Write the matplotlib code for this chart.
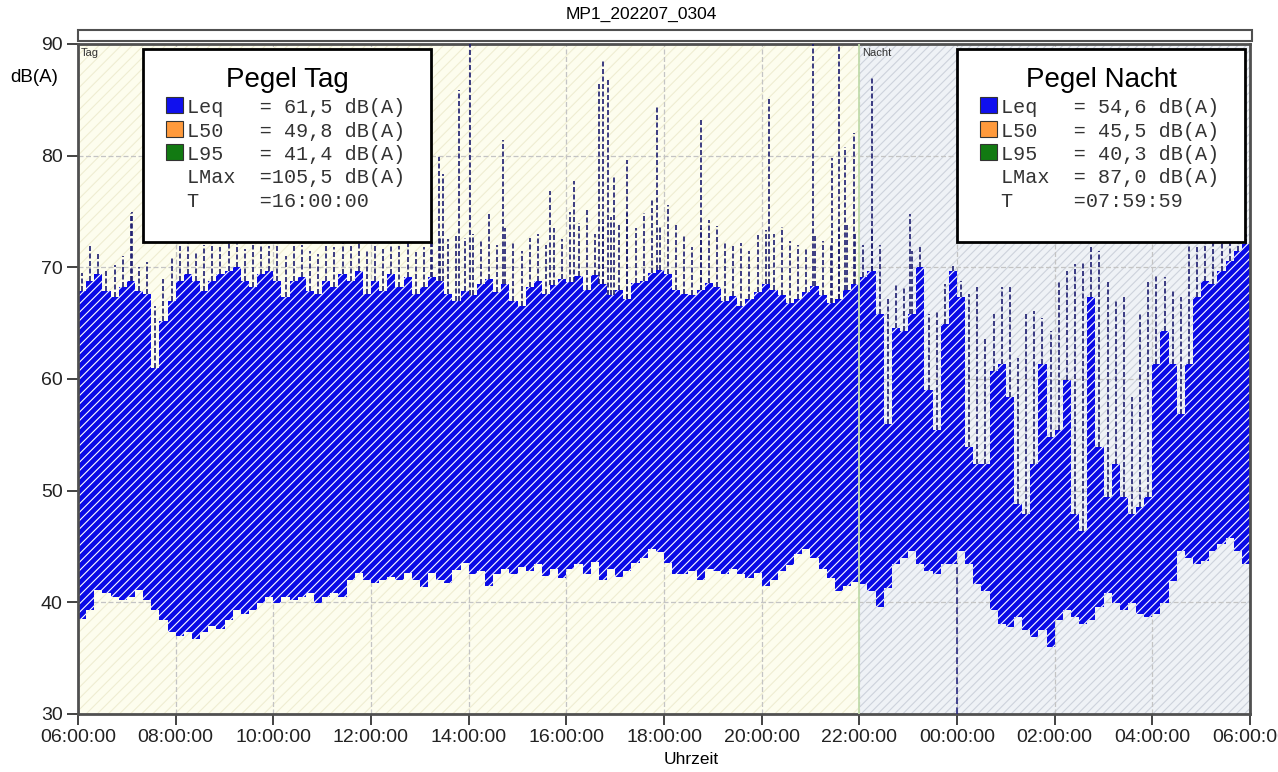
"""
Noise level plot MP1_202207_0304: day/night level history with summary boxes.
"""

import numpy as np
import matplotlib
matplotlib.use('Agg')
import matplotlib.pyplot as plt
from matplotlib.patches import Rectangle

# --------------------------------------------------------
# Data (10 minute bins from 06:00 to 06:00 next day, dB(A))
# --------------------------------------------------------

# lower edge of the level band, one row per hour (06 .. 05)
level_low = [
    38.5, 39.3, 41.1, 40.8, 40.5, 40.2,   # 06
    40.5, 41.1, 40.2, 39.3, 38.4, 37.3,   # 07
    37.0, 37.3, 36.7, 37.3, 37.9, 37.6,   # 08
    38.4, 39.3, 39.0, 39.3, 39.9, 40.5,   # 09
    39.9, 40.5, 40.2, 40.5, 40.8, 39.9,   # 10
    40.5, 40.8, 40.5, 42.0, 42.6, 42.0,   # 11
    41.7, 42.0, 42.3, 42.0, 42.6, 42.0,   # 12
    41.4, 42.6, 42.0, 41.7, 42.9, 43.5,   # 13
    42.5, 42.8, 41.5, 42.5, 43.0, 42.5,   # 14
    43.2, 42.8, 43.4, 42.4, 43.0, 42.2,   # 15
    43.0, 43.4, 42.5, 43.6, 42.0, 43.0,   # 16
    42.3, 42.8, 43.5, 44.0, 44.8, 44.5,   # 17
    43.5, 42.5, 42.5, 42.8, 42.0, 43.0,   # 18
    42.8, 42.5, 43.0, 42.5, 42.2, 42.6,   # 19
    41.5, 42.0, 42.8, 43.3, 44.3, 44.8,   # 20
    44.0, 43.0, 42.2, 41.0, 41.5, 41.8,   # 21
    41.6, 41.0, 39.6, 41.3, 43.4, 44.0,   # 22
    44.6, 43.4, 42.8, 42.5, 43.4, 43.4,   # 23
    44.6, 43.4, 41.6, 41.0, 39.3, 38.1,   # 00
    37.8, 38.7, 37.5, 36.9, 37.5, 36.0,   # 01
    38.4, 39.3, 38.7, 38.1, 38.4, 39.6,   # 02
    40.8, 39.9, 39.3, 39.9, 39.0, 38.7,   # 03
    39.0, 39.9, 41.9, 44.6, 44.0, 43.4,   # 04
    43.7, 44.6, 45.2, 45.8, 44.6, 43.4,   # 05
]

# upper edge of the dense band
level_high = [
    67.9, 68.8, 69.4, 67.9, 67.3, 68.2,   # 06
    68.8, 67.9, 67.6, 61.0, 65.2, 67.0,   # 07
    68.8, 69.4, 68.8, 67.9, 68.8, 69.4,   # 08
    69.7, 70.0, 68.8, 68.2, 69.4, 69.7,   # 09
    68.8, 67.3, 68.8, 69.1, 67.9, 67.6,   # 10
    68.8, 68.2, 69.4, 68.8, 69.7, 67.6,   # 11
    68.8, 67.9, 69.4, 68.2, 69.1, 67.6,   # 12
    68.2, 69.1, 68.8, 67.6, 67.0, 67.9,   # 13
    67.5, 68.5, 69.0, 67.8, 68.5, 67.0,   # 14
    66.5, 68.2, 68.8, 67.6, 68.4, 69.0,   # 15
    68.7, 69.2, 68.0, 69.3, 68.5, 67.5,   # 16
    68.0, 67.2, 68.6, 68.8, 69.5, 69.8,   # 17
    69.4, 68.0, 67.6, 67.5, 68.0, 68.6,   # 18
    68.2, 67.0, 67.4, 66.5, 67.2, 67.8,   # 19
    68.5, 68.0, 67.5, 66.8, 67.2, 67.8,   # 20
    68.3, 67.5, 66.8, 67.2, 68.0, 68.5,   # 21
    69.1, 69.7, 65.8, 56.0, 64.6, 64.3,   # 22
    65.8, 70.0, 59.0, 55.4, 64.9, 69.7,   # 23
    67.3, 53.9, 52.4, 52.4, 60.7, 61.3,   # 00
    58.4, 48.8, 47.9, 52.4, 61.3, 54.8,   # 01
    55.4, 59.9, 47.9, 46.4, 67.3, 53.9,   # 02
    49.4, 52.4, 49.4, 47.9, 48.5, 49.4,   # 03
    61.3, 64.3, 61.3, 56.9, 61.3, 67.3,   # 04
    68.8, 68.5, 69.7, 70.6, 71.5, 72.1,   # 05
]

# short peaks above the dense band
level_peak = [
    69.5, 72.1, 71.2, 69.8, 70.2, 71.0,   # 06
    74.9, 70.0, 70.5, 66.5, 69.0, 71.0,   # 07
    72.0, 72.5, 71.5, 72.0, 72.3, 71.8,   # 08
    72.2, 72.4, 71.6, 72.0, 72.5, 71.9,   # 09
    72.0, 71.0, 72.3, 72.0, 71.5, 71.2,   # 10
    72.1, 71.8, 72.4, 72.0, 72.5, 71.5,   # 11
    72.2, 71.6, 72.4, 71.9, 72.3, 71.4,   # 12
    71.8, 72.4, 72.8, 72.5, 73.0, 72.6,   # 13
    73.0, 72.5, 74.9, 72.0, 73.5, 72.4,   # 14
    71.5, 72.6, 73.0, 72.0, 73.5, 72.5,   # 15
    75.0, 74.0, 75.1, 73.0, 74.0, 74.5,   # 16
    74.0, 74.9, 73.5, 74.9, 76.0, 73.8,   # 17
    75.6, 74.0, 72.8, 71.8, 73.5, 74.2,   # 18
    73.7, 72.3, 71.9, 72.2, 71.5, 72.9,   # 19
    73.3, 73.0, 73.6, 72.4, 72.0, 71.6,   # 20
    73.0, 72.4, 72.2, 73.5, 74.0, 73.2,   # 21
    72.0, 73.3, 72.0, 67.3, 68.5, 68.2,   # 22
    71.5, 72.0, 65.8, 66.1, 68.5, 70.3,   # 23
    68.8, 67.6, 68.2, 63.7, 65.8, 68.2,   # 00
    68.2, 61.9, 65.8, 66.1, 65.5, 64.3,   # 01
    68.8, 69.7, 70.3, 70.6, 71.8, 71.5,   # 02
    68.8, 67.0, 67.3, 58.4, 65.8, 68.8,   # 03
    69.4, 69.1, 67.9, 67.3, 72.0, 72.0,   # 04
    73.0, 73.0, 73.0, 73.0, 73.0, 73.0,   # 05
]

# single loud events (clock time, max level)
event_times = ['07:06', '13:14', '13:24', '13:29', '13:48', '14:02', '14:42',
               '15:40', '16:09', '16:40', '16:45', '16:51', '16:59', '17:14',
               '17:52', '18:45', '20:09', '21:03', '21:27', '21:35', '21:43',
               '21:54', '22:16', '23:02']
event_levels = [75.0, 78.0, 79.9, 78.4, 85.9, 90.0, 81.4,
                76.8, 77.7, 86.6, 88.5, 86.9, 78.3, 79.6,
                84.5, 83.4, 85.1, 90.0, 79.8, 90.0, 80.8,
                82.0, 87.0, 74.8]

# measurement dropout at midnight
dropout_time = '00:00'
dropout_level = 43.5

hour_ticks = ['06:00:00', '08:00:00', '10:00:00', '12:00:00', '14:00:00',
              '16:00:00', '18:00:00', '20:00:00', '22:00:00', '00:00:00',
              '02:00:00', '04:00:00', '06:00:00']

day_rows = ['Leq   = 61,5 dB(A)', 'L50   = 49,8 dB(A)', 'L95   = 41,4 dB(A)',
            'LMax  =105,5 dB(A)', 'T     =16:00:00']
night_rows = ['Leq   = 54,6 dB(A)', 'L50   = 45,5 dB(A)', 'L95   = 40,3 dB(A)',
              'LMax  = 87,0 dB(A)', 'T     =07:59:59']
swatch_colors = ['#1010ee', '#ff9a3c', '#127a12']


# --------------------------------------------------------
# Helpers
# --------------------------------------------------------

W, H = 1278, 772


def px(x, y):
    """Figure pixel (from top left) -> figure fraction."""
    return x / W, 1 - y / H


def clock_to_offset(s):
    """'HH:MM' -> hours after 06:00."""
    h, m = map(int, s.split(':'))
    return ((h - 6) % 24) + m / 60


def summary_box(fig, left, title, rows):
    x0, y0 = px(left, 242)
    x1, y1 = px(left + 288, 49)
    fig.add_artist(Rectangle((x0, y0), x1 - x0, y1 - y0, transform=fig.transFigure,
                             facecolor='white', edgecolor='black', lw=2, zorder=10))
    fig.text(*px(left + 144, 87), title, ha='center', va='baseline',
             fontsize=20, family='Liberation Sans', zorder=11)
    baselines = [113, 137, 160, 183, 207]
    for i, (row, yb) in enumerate(zip(rows, baselines)):
        if i < 3:
            sx, sy = px(left + 23, yb)
            sw, sh = 17 / W, 16 / H
            fig.add_artist(Rectangle((sx, sy), sw, sh, transform=fig.transFigure,
                                     facecolor=swatch_colors[i], edgecolor='#333333',
                                     lw=0.8, zorder=11))
        fig.text(*px(left + 44, yb), row, ha='left', va='baseline', fontsize=14.5,
                 family='Liberation Mono', color='#333333', zorder=11)


# --------------------------------------------------------
# Plot
# --------------------------------------------------------

plt.rcParams['hatch.linewidth'] = 0.8
plt.rcParams['font.family'] = 'Liberation Sans'

fig = plt.figure(figsize=(W / 100, H / 100), dpi=100)
ax = fig.add_axes([78 / W, 1 - 714 / H, (1250 - 78) / W, (714 - 44) / H])

low = np.array(level_low)
high = np.array(level_high)
peak = np.array(level_peak)
step = 1 / 6
x = np.arange(len(low)) * step

# day / night background
ax.axvspan(0, 16, facecolor='#fdfdee', edgecolor='#efedd2', hatch='///', lw=0, zorder=0)
ax.axvspan(16, 24, facecolor='#eff2f6', edgecolor='#cdd2dc', hatch='////', lw=0, zorder=0)

ax.grid(True, color='#c4c4c4', lw=0.9, ls=(0, (4, 2)), zorder=1)
ax.set_axisbelow(True)

# level band (one polygon, so no seams between bins)
xs = np.append(x, 24)
ax.fill_between(xs, np.append(low, low[-1]), np.append(high, high[-1]), step='post',
                facecolor='#0a0ae6', edgecolor='white', hatch='////', lw=0, zorder=2)

# peaks above the band
ax.vlines(x + step / 2, high, peak, color='#1c1c70', lw=1.2, ls=(0, (3, 1.5)), zorder=3)

ev_x = [clock_to_offset(t) for t in event_times]
ev_base = [high[min(int(t / step), len(high) - 1)] for t in ev_x]
ax.vlines(ev_x, ev_base, event_levels, color='#1c1c70', lw=1.2, ls=(0, (3, 1.5)), zorder=3)
ax.vlines(clock_to_offset(dropout_time), 30, dropout_level, color='#2a2a80', lw=1.2,
          ls=(0, (4, 2)), zorder=3)

# day / night border
ax.axvline(16, color='#c2dcac', lw=1.3, zorder=4)
ax.text(0.05, 89.6, 'Tag', fontsize=8, va='top', color='#333333', zorder=5)
ax.text(16.05, 89.6, 'Nacht', fontsize=8, va='top', color='#333333', zorder=5)

ax.set_xlim(0, 24)
ax.set_ylim(30, 90)
ax.set_xticks(np.arange(0, 25, 2))
ax.set_xticklabels(hour_ticks)
ax.set_yticks(np.arange(30, 91, 10))
ax.tick_params(axis='both', labelsize=14, colors='#222222', length=8, width=1.2, pad=3)
for sp in ax.spines.values():
    sp.set_color('#505050')
    sp.set_linewidth(2)

# top strip above the plot area
sx, sy = px(78, 41)
fig.add_artist(Rectangle((sx, sy), (1252 - 78) / W, 11 / H, transform=fig.transFigure,
                         facecolor='white', edgecolor='#505050', lw=1.5))

fig.text(*px(641, 14), 'MP1_202207_0304', ha='center', va='center', fontsize=12.5)
fig.text(*px(10, 78), 'dB(A)', ha='left', va='center', fontsize=13.5)
fig.text(*px(691, 759), 'Uhrzeit', ha='center', va='center', fontsize=12.5)

summary_box(fig, 143, 'Pegel Tag', day_rows)
summary_box(fig, 957, 'Pegel Nacht', night_rows)

fig.savefig('out.png', dpi=100)
